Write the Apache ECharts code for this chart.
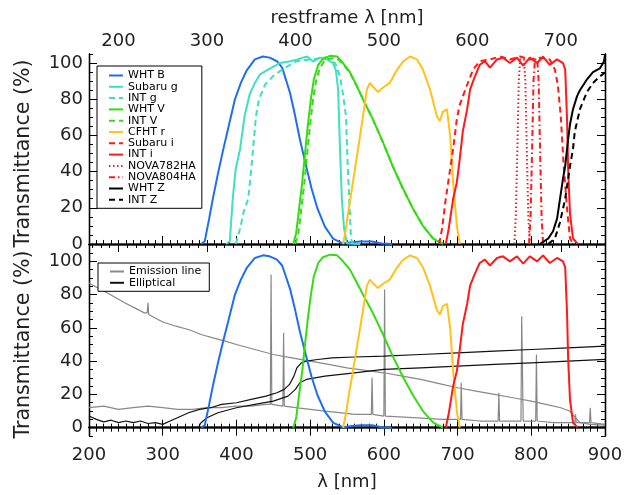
<!DOCTYPE html>
<html><head><meta charset="utf-8">
<script src="https://cdn.jsdelivr.net/npm/echarts@6/dist/echarts.min.js"></script>
<style>html,body{margin:0;padding:0;background:#fff}#c{width:634px;height:495px}</style>
</head><body><div id="c"></div>
<script>
// ---- data (observed wavelength nm, transmittance %) ----
const REDSHIFT1 = 1.2;
const xTicks = [200,300,400,500,600,700,800,900];
const restTicks = [200,300,400,500,600,700];
const yTicks = [0,20,40,60,80,100];

const whtB = [[352,0],[357,1.4],[363,14],[368,25],[375,39],[382,52],[390,66],[398,80],[406,89],[414,96],[425,102],[436,103.6],[445,103],[455,101],[462,97.5],[467,91],[473,83],[479,72],[486,58],[494,44],[502,30.5],[510,19.5],[520,9.6],[531,3],[544,0.3],[554,0.8],[568,1.4],[584,1.4],[597,0.3],[611,0]];
const subaruG = [[386,0],[391,1.4],[395,25],[399,41.5],[405,52.5],[411,70.6],[418,82.7],[425,89],[432,93.7],[443,96.4],[459,100],[473,101],[482,101.9],[490,103],[496,103.6],[504,100.8],[513,103],[523,102],[531,100],[535,96],[538,85],[540.5,52],[543,25],[546,8.5],[550,0.3],[568,0]];
const intG = [[399,0],[405,8.5],[410,18],[416,25],[420,41],[422.5,52],[426.5,70.6],[430.6,80],[438.8,88],[452,93.7],[468.6,98],[482,101],[500,102],[520,103],[534,100],[540.5,92.6],[544.6,82.7],[548.6,70.6],[551,43],[554,15.7],[555.4,3],[558,0]];
const whtV = [[477,0],[481,5.8],[485,19.5],[489,33],[493,50],[497,66],[501,80],[505,91],[511,99],[517.5,102.5],[527,104],[536.6,103.6],[544.6,100],[554,95],[563.6,87],[571.7,80],[585,69],[599,56],[612,43],[626,30.5],[639.5,19.5],[653,10],[667,3],[680,0]];
const intV = [[480,0],[484,5.8],[488,19.5],[492,33],[496,50],[500,66],[504,80],[508,90],[513,97],[519,101],[527,102.5],[536.6,102.5],[544.6,99.5],[554,94.5],[563.6,87],[571.7,80],[585,69],[599,56],[612,43],[626,30.5],[639.5,19.5],[653,10],[667,3],[681,0]];
const cfhtR = [[544.6,0],[548.6,8.5],[551,15.7],[558,34],[565,52.5],[571.7,70.6],[577,85.4],[581,89],[585,87],[592,84],[599,86.5],[608,89],[618,96.4],[626,100.8],[635.5,103.6],[645,102],[653,96.4],[662.6,85.4],[672,70.6],[676,68],[680,73],[685.6,74.5],[690,59.6],[694,34],[699,10],[703,0]];
const subaruI = [[675,0],[679,8.5],[684,25],[690,41.5],[694,52.5],[699,69],[703,77],[713,88],[721,96.4],[730,101],[744,102],[757.6,103.6],[771,102],[784.7,103.6],[798,102],[812,103],[825,102],[832,96.4],[836,88],[840,70.6],[844,43],[848.5,19.5],[852.5,3],[856.6,0]];
const intI = [[684,0],[688,8.5],[694,25],[699,34],[703,47],[707,62],[713,74.5],[717,85.4],[722,91],[726,95],[730,99],[737,101],[744,97.5],[753.5,102],[761.6,103],[771,100],[780.6,103],[789,98.6],[798,103],[808,100],[816,103.6],[825,99],[835,102],[843,100],[846,96.4],[848.5,69],[850,41.5],[852.5,16.8],[856.6,3],[863,0]];
const nova782 = [[777,0],[779,15],[781,50],[783,90],[785,102],[790,102],[792,90],[794,50],[796,15],[798,0]];
const nova804 = [[797,0],[799,15],[801,50],[803,90],[805,102],[808,102],[810,90],[812,50],[814,15],[816,0]];
const whtZ = [[812,0],[823,3],[829.5,7],[835,14],[839,25],[843,36],[846,43],[850,58],[852.5,66],[856.6,74.5],[862,81.6],[866,85],[875.6,91],[883.7,95],[893,97],[898.6,100.8],[900,104.7]];
const intZ = [[823,0],[832,3],[839,12],[846,25],[852.5,43],[856.6,52.5],[859,62],[866,74.5],[875.6,84],[883.7,89],[893,92.6],[900,94.8]];

// bottom panel spectra
const emisUpper = [[200,87],[212,84],[225,81],[237,78],[249,75],[262,72],[275,69],[279,69],[280,75],[281,68],[300,63.5],[318,61],[337,58.7],[352,56],[368,54],[385,52],[400,50],[425,47],[450,44],[475,42],[500,40],[525,38],[550,36],[575,34.5],[600,33],[625,31],[650,29],[675,26.5],[700,24],[725,22],[750,20],[775,18],[800,16],[820,14],[840,12],[852,10],[860,6],[866,3],[880,2],[900,1.5]];
const emisLower = [[200,12],[220,13],[240,11],[260,12],[280,13],[300,12],[320,11],[340,11],[360,12],[380,12],[400,13],[420,13],[440,14],[446,14],[447,92],[448,14],[463,13],[464,57],[465,13],[480,12],[500,11],[520,10],[540,9],[560,8],[583,8],[584,30],[585,8],[600,7],[601,83],[602,7],[640,6],[680,5],[704,5],[705,27],[706,5],[730,4],[755,4],[756,21],[757,4],[786,4],[787,67],[789,4],[806,4],[807,44],[808,4],[830,3],[859,3],[860,8],[861,3],[879,3],[880,12],[881,3],[900,2]];
const ellip1 = [[200,7],[210,5],[220,3.5],[230,4.5],[240,3],[250,4],[260,3],[270,4],[280,2.5],[290,3],[300,2],[310,4],[320,6],[335,9],[350,11],[365,12],[380,14],[400,15],[420,17],[440,19],[455,21],[465,23],[472,26],[478,31],[482,36],[488,39],[495,40],[510,41],[530,42],[560,42.5],[600,43],[650,44],[700,45],[750,46],[800,47],[850,48],[900,49]];
const ellip2 = [[348,0],[352,3],[360,6],[375,9],[400,12],[425,14],[450,16],[470,19],[480,23],[486,27],[495,29],[520,31],[560,33],[600,35],[650,36],[700,37],[750,38],[800,39],[850,40],[900,41]];

const C = {B:'#1e6ff0', g:'#3de0c0', V:'#33dd11', r:'#ffc21a', i:'#ff1a1a', z:'#000000'};
const FONT = 'DejaVu Sans';

function range(a,b,s){const r=[];for(let v=a;v<=b+1e-9;v+=s)r.push(+v.toFixed(6));return r;}
const xMinor = range(200,900,10);
const restMin = 200/REDSHIFT1, restMax = 900/REDSHIFT1;
const restMinor = range(170,750,10);
const yMinor = range(-5,105,5);

const axLine = {show:true, lineStyle:{color:'#000', width:1.3}};
function xAx(grid,pos,min,max,ticks,len,labels,name){
  return {type:'value', gridIndex:grid, position:pos, min:min, max:max,
    axisLine:axLine, splitLine:{show:false},
    axisTick:{show:true, inside:true, length:len, customValues:ticks, lineStyle:{color:'#000',width:1}},
    axisLabel: labels ? {show:true, customValues:labels, fontFamily:FONT, fontSize:18, color:'#222', margin:6} : {show:false},
    name: name||'', nameLocation:'middle', nameGap: 30, nameTextStyle:{fontFamily:FONT, fontSize:18, color:'#222'}};
}
function yAx(grid,pos,ticks,len,labels,name){
  return {type:'value', gridIndex:grid, position:pos, min:-5, max:105,
    axisLine:axLine, splitLine:{show:false},
    axisTick:{show:true, inside:true, length:len, customValues:ticks, lineStyle:{color:'#000',width:1}},
    axisLabel: labels ? {show:true, customValues:labels, fontFamily:FONT, fontSize:18, color:'#222', margin:6} : {show:false},
    name: name||'', nameLocation:'middle', nameGap: 55, nameRotate:90, nameTextStyle:{fontFamily:FONT, fontSize:20.6, color:'#222'}};
}

const xAxis = [
  xAx(0,'bottom',200,900,xTicks,8,null),        //0 top panel main
  xAx(0,'bottom',200,900,xMinor,4,null),        //1
  xAx(0,'top',restMin,restMax,restTicks,8,restTicks,'restframe λ [nm]'), //2
  xAx(0,'top',restMin,restMax,restMinor,4,null), //3
  xAx(1,'bottom',200,900,xTicks,8,xTicks,'λ [nm]'), //4 bottom panel main
  xAx(1,'bottom',200,900,xMinor,4,null),        //5
  xAx(1,'top',200,900,xTicks,8,null),           //6
  xAx(1,'top',200,900,xMinor,4,null)            //7
];
xAxis[2].nameGap = 27; xAxis[2].axisLabel.margin = 4;
xAxis[4].nameGap = 37; xAxis[4].axisLabel.margin = 10;
const yAxis = [
  yAx(0,'left',yTicks,8,yTicks,'Transmittance (%)'), //0
  yAx(0,'left',yMinor,4,null),   //1
  yAx(0,'right',yTicks,8,null),  //2
  yAx(0,'right',yMinor,4,null),  //3
  yAx(1,'left',yTicks,8,yTicks,'Transmittance (%)'), //4
  yAx(1,'left',yMinor,4,null),   //5
  yAx(1,'right',yTicks,8,null),  //6
  yAx(1,'right',yMinor,4,null)   //7
];

function ln(name,data,color,type,xi,yi,w){
  return {type:'line', name:name, data:data, xAxisIndex:xi, yAxisIndex:yi, showSymbol:false, symbol:'none',
    lineStyle:{color:color, width:w||2, type:type||'solid'}, itemStyle:{color:color}, z:3, silent:true, animation:false, clip:true};
}
const DASH=[6,4], DOT=[1.5,2.5], DASHDOT=[6,3,1.5,3];
const series = [
  ln('WHT B', whtB, C.B,'solid',0,0),
  ln('Subaru g', subaruG, C.g,'solid',0,0),
  ln('INT g', intG, C.g,DASH,0,0),
  ln('WHT V', whtV, C.V,'solid',0,0),
  ln('INT V', intV, C.V,DASH,0,0),
  ln('CFHT r', cfhtR, C.r,'solid',0,0),
  ln('Subaru i', subaruI, C.i,DASH,0,0),
  ln('INT i', intI, C.i,'solid',0,0),
  ln('NOVA782HA', nova782, C.i,DOT,0,0),
  ln('NOVA804HA', nova804, C.i,DASHDOT,0,0),
  ln('WHT Z', whtZ, C.z,'solid',0,0),
  ln('INT Z', intZ, C.z,DASH,0,0),
  // bottom
  ln('Emission line', emisUpper, '#888888','solid',4,4,1.2),
  ln('Emission line', emisLower, '#888888','solid',4,4,1.2),
  ln('Elliptical', ellip1, '#111111','solid',4,4,1.2),
  ln('Elliptical', ellip2, '#111111','solid',4,4,1.2),
  ln('WHT B ', whtB, C.B,'solid',4,4),
  ln('WHT V ', whtV, C.V,'solid',4,4),
  ln('CFHT r ', cfhtR, C.r,'solid',4,4),
  ln('INT i ', intI, C.i,'solid',4,4)
];

const legendBase = {orient:'vertical', backgroundColor:'#fff', borderColor:'#000', borderWidth:1,
  itemWidth:14, itemHeight:9, itemGap:0.3, selectedMode:false,
  itemStyle:{opacity:0},
  textStyle:{fontFamily:FONT, fontSize:11, color:'#000'}};
const chart = echarts.init(document.getElementById('c'), null, {renderer:'canvas'});
chart.setOption({
  animation:false,
  backgroundColor:'#fff',
  grid:[{left:89, right:29, top:54, height:199},{left:89, right:29, top:253, height:183}],
  xAxis:xAxis, yAxis:yAxis,
  legend:[
    Object.assign({}, legendBase, {left:97, top:66, padding:[4,6,3,11],
      data:['WHT B','Subaru g','INT g','WHT V','INT V','CFHT r','Subaru i','INT i','NOVA782HA','NOVA804HA','WHT Z','INT Z']}),
    Object.assign({}, legendBase, {left:98, top:263, padding:[3,8,3,11], data:['Emission line','Elliptical']})
  ],
  series:series
});
</script></body></html>
